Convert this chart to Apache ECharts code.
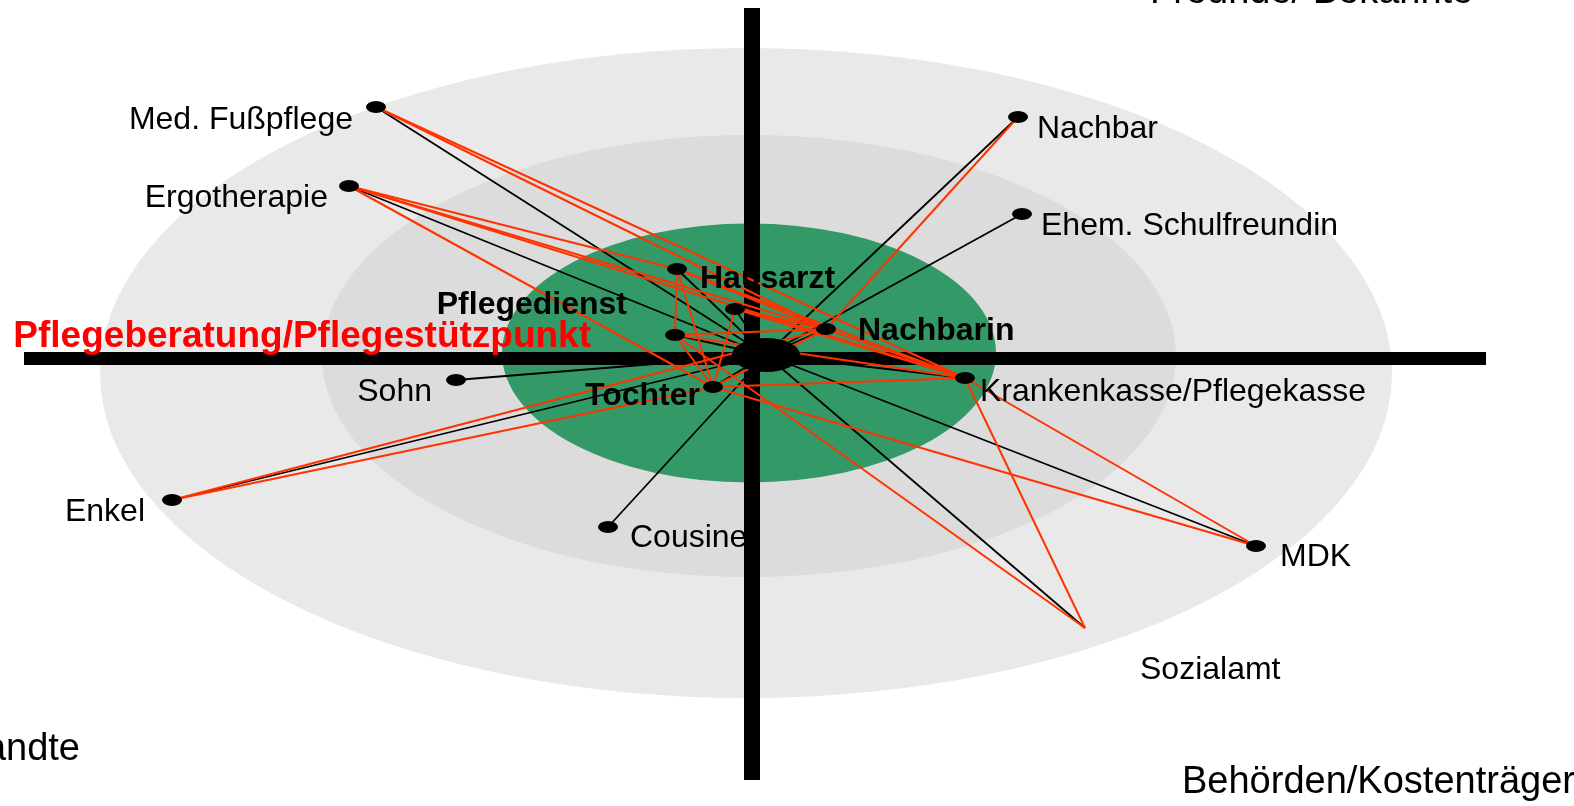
<!DOCTYPE html>
<html>
<head>
<meta charset="utf-8">
<script src="https://cdn.jsdelivr.net/npm/echarts@6/dist/echarts.min.js"></script>
<style>
html,body{margin:0;padding:0;background:#fff;}
#main{width:1574px;height:806px;}
</style>
</head>
<body>
<div id="main"></div>
<script>
// Knoten (Koordinaten relativ zum Achsenkreuz)
var nodeNames = ['Mitte','Med. Fußpflege','Ergotherapie','Nachbar','Ehem. Schulfreundin','Hausarzt','Pflegedienst',
	'Pflegeberatung/Pflegestützpunkt','Nachbarin','Tochter','Krankenkasse/Pflegekasse','MDK','Sozialamt','Sohn','Enkel','Cousine'];
var nodeX = [14,-376,-403,266,270,-75,-17,-77,74,-39,213,504,333,-296,-580,-144];
var nodeY = [3,251,172,241,144,89,49,23,29,-29,-20,-188,-270,-22,-142,-169];

// schwarze Verbindungen: Mitte -> alle
var blackLinks = [
	['Mitte','Med. Fußpflege'],['Mitte','Ergotherapie'],['Mitte','Nachbar'],['Mitte','Ehem. Schulfreundin'],
	['Mitte','Hausarzt'],['Mitte','Pflegedienst'],['Mitte','Pflegeberatung/Pflegestützpunkt'],['Mitte','Nachbarin'],
	['Mitte','Tochter'],['Mitte','Krankenkasse/Pflegekasse'],['Mitte','MDK'],['Mitte','Sozialamt'],
	['Mitte','Sohn'],['Mitte','Enkel'],['Mitte','Cousine']
];
// rote Verbindungen
var redLinks = [
	['Med. Fußpflege','Nachbarin'],['Med. Fußpflege','Krankenkasse/Pflegekasse'],
	['Ergotherapie','Hausarzt'],['Ergotherapie','Nachbarin'],['Ergotherapie','Krankenkasse/Pflegekasse'],['Ergotherapie','Tochter'],
	['Nachbar','Nachbarin'],
	['Hausarzt','Pflegeberatung/Pflegestützpunkt'],['Hausarzt','Tochter'],['Hausarzt','Nachbarin'],['Hausarzt','Krankenkasse/Pflegekasse'],
	['Pflegedienst','Tochter'],['Pflegedienst','Nachbarin'],['Pflegedienst','Krankenkasse/Pflegekasse'],
	['Pflegeberatung/Pflegestützpunkt','Nachbarin'],['Pflegeberatung/Pflegestützpunkt','Tochter'],
	['Pflegeberatung/Pflegestützpunkt','Krankenkasse/Pflegekasse'],['Pflegeberatung/Pflegestützpunkt','Sozialamt'],
	['Tochter','Nachbarin'],['Tochter','Krankenkasse/Pflegekasse'],['Tochter','MDK'],
	['Nachbarin','Krankenkasse/Pflegekasse'],
	['Krankenkasse/Pflegekasse','MDK'],['Krankenkasse/Pflegekasse','Sozialamt'],
	['Enkel','Nachbarin'],['Enkel','Tochter']
];

// Hintergrund-Ringe
var ringNames = ['aussen','mitte','innen'];
var ringX = [-6,-3,-3];
var ringY = [-15,2,5];

// Sektoren
var sectorLabels = ['Freunde/ Bekannte','Verwandte','Behörden/Kostenträger'];

// label: [position, abstand, versatzY, fett]
var labelInfo = {
	'Med. Fußpflege':['left',13,13,false],
	'Ergotherapie':['left',11,12,false],
	'Nachbar':['right',9,12,false],
	'Ehem. Schulfreundin':['right',9,12,false],
	'Hausarzt':['right',13,10,true],
	'Pflegedienst':['left',98,-4,true],
	'Pflegeberatung/Pflegestützpunkt':['left',74,2,true],
	'Nachbarin':['right',22,2,true],
	'Tochter':['left',3,9,true],
	'Krankenkasse/Pflegekasse':['right',5,14,false],
	'MDK':['right',14,11,false],
	'Sozialamt':['right',55,42,false],
	'Sohn':['left',14,12,false],
	'Enkel':['left',17,12,false],
	'Cousine':['right',12,11,false]
};

var nodes = [];
for(var i=0;i<nodeNames.length;i++){
	var n = nodeNames[i];
	var item = {name:n, value:[nodeX[i],nodeY[i]]};
	if(n=='Mitte'){
		item.symbolSize = [68,34];
		item.label = {show:false};
	}else{
		var l = labelInfo[n];
		item.symbolSize = (n=='Sozialamt') ? 0 : [20,12];
		item.label = {
			show:true,
			position:l[0],
			distance:l[1],
			offset:[0,l[2]],
			fontFamily:'Liberation Sans, Arial, sans-serif',
			fontSize:(n=='Pflegeberatung/Pflegestützpunkt') ? 37 : 32,
			fontWeight:l[3] ? 'bold' : 'normal',
			color:(n=='Pflegeberatung/Pflegestützpunkt') ? '#ff0000' : '#000'
		};
	}
	nodes.push(item);
}

var links = [];
for(var i=0;i<blackLinks.length;i++){
	links.push({source:blackLinks[i][0],target:blackLinks[i][1],lineStyle:{color:'#000',width:1.8}});
}
for(var i=0;i<redLinks.length;i++){
	links.push({source:redLinks[i][0],target:redLinks[i][1],lineStyle:{color:'#ff3300',width:2}});
}

var ringSize = [[1292,650],[854,442],[494,259]];
var ringColor = ['#e9e9e9','#dcdcdc','#339966'];
var ringSeries = [];
for(var i=0;i<ringNames.length;i++){
	ringSeries.push({
		name:ringNames[i],
		type:'scatter',
		z:-1,
		silent:true,
		clip:false,
		symbol:'circle',
		symbolSize:ringSize[i],
		itemStyle:{color:ringColor[i],opacity:1},
		data:[[ringX[i],ringY[i]]]
	});
}

var myChart = echarts.init(document.getElementById('main'));
var option = {
	animation:false,
	backgroundColor:'#fff',
	grid:{left:24,right:88,top:8,bottom:26},
	xAxis:{
		type:'value',min:-728,max:734,
		axisLine:{show:true,onZero:true,lineStyle:{color:'#000',width:13,cap:'butt'}},
		axisTick:{show:false},axisLabel:{show:false},splitLine:{show:false}
	},
	yAxis:{
		type:'value',min:-422,max:350,
		axisLine:{show:true,onZero:true,lineStyle:{color:'#000',width:16,cap:'butt'}},
		axisTick:{show:false},axisLabel:{show:false},splitLine:{show:false}
	},
	graphic:[
		{type:'text',x:1150,y:12,silent:true,style:{text:sectorLabels[0],font:'38px "Liberation Sans", Arial, sans-serif',fill:'#000',
			textAlign:'left',textVerticalAlign:'bottom',align:'left',verticalAlign:'bottom'}},
		{type:'text',x:80,y:750,silent:true,style:{text:sectorLabels[1],font:'38px "Liberation Sans", Arial, sans-serif',fill:'#000',
			textAlign:'right',textVerticalAlign:'middle',align:'right',verticalAlign:'middle'}},
		{type:'text',x:1182,y:783,silent:true,style:{text:sectorLabels[2],font:'38px "Liberation Sans", Arial, sans-serif',fill:'#000',
			textAlign:'left',textVerticalAlign:'middle',align:'left',verticalAlign:'middle'}}
	],
	series:ringSeries.concat([{
		type:'graph',
		layout:'none',
		coordinateSystem:'cartesian2d',
		silent:true,
		z:3,
		symbol:'circle',
		itemStyle:{color:'#000'},
		lineStyle:{opacity:1,curveness:0},
		emphasis:{disabled:true},
		data:nodes,
		links:links
	}])
};
myChart.setOption(option);
</script>
</body>
</html>
